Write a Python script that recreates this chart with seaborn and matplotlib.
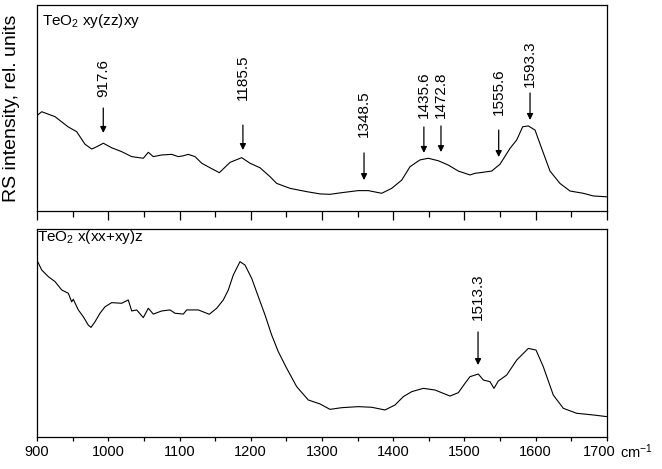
import matplotlib
matplotlib.use("Agg")
import matplotlib.pyplot as plt
from matplotlib.ticker import MultipleLocator
from matplotlib.transforms import ScaledTranslation
import seaborn as sns
import pandas as pd

# ---------------- data ----------------
wn_top = [901, 906.6, 925.3, 943.5, 955.7, 967.4, 976.8, 983.8, 993.1, 1004.8,
          1018.9, 1032.9, 1049.2, 1056.2, 1063.2, 1075.0, 1089.1, 1098.3, 1105.3,
          1112.3, 1121.8, 1131.2, 1142.8, 1155.9, 1170.9, 1187.3, 1198.9, 1213.0,
          1227.0, 1236.4, 1255.1, 1278.5, 1297.2, 1311.2, 1327.7, 1350.9, 1365.0,
          1383.8, 1397.8, 1411.9, 1423.5, 1437.5, 1449.2, 1463.2, 1477.3, 1491.3,
          1507.7, 1514.7, 1521.8, 1538.2, 1549.8, 1563.9, 1573.3, 1581.7, 1589.6,
          1599.0, 1608.3, 1620.0, 1634.0, 1648.1, 1666.7, 1680.8, 1699.6]
int_top = [46.6, 48.2, 45.8, 40.9, 38.5, 32.4, 30.1, 31.2, 32.9, 30.7,
           28.8, 26.4, 25.6, 28.5, 26.4, 27.2, 27.5, 26.4, 26.8,
           27.5, 26.4, 23.2, 21.0, 18.6, 23.6, 25.9, 23.2, 21.0,
           16.7, 13.4, 11.0, 9.4, 8.3, 8.1, 8.9, 9.9, 9.9,
           8.6, 11.0, 15.0, 21.5, 24.8, 25.6, 24.4, 22.3, 19.4,
           17.5, 18.3, 18.6, 19.4, 22.7, 30.4, 34.5, 40.9, 41.3,
           39.3, 30.4, 19.4, 13.4, 9.7, 8.6, 7.3, 6.9]

wn_bot = [901, 906.6, 915.9, 925.3, 934.7, 943.9, 948.7, 950.9, 958.0, 965.0,
          972.0, 975.8, 981.4, 988.4, 995.4, 1004.8, 1018.9, 1028.1, 1032.9,
          1039.9, 1049.2, 1056.2, 1063.2, 1075.0, 1086.7, 1093.7, 1105.3, 1110.1,
          1126.4, 1141.8, 1152.2, 1161.5, 1168.5, 1175.5, 1184.9, 1191.9, 1201.3,
          1210.6, 1220.0, 1229.4, 1238.7, 1250.5, 1264.5, 1280.8, 1297.2, 1311.2,
          1327.7, 1350.9, 1369.8, 1388.4, 1402.5, 1414.1, 1425.9, 1442.2, 1458.6,
          1470.2, 1479.6, 1491.3, 1500.7, 1507.7, 1519.4, 1526.4, 1535.8, 1541.4,
          1547.4, 1559.2, 1573.3, 1589.6, 1600.4, 1610.6, 1624.6, 1638.7, 1657.5,
          1680.8, 1699.6]
int_bot = [84.3, 80.3, 77.1, 74.7, 70.7, 69.1, 65.0, 66.2, 61.1, 57.8,
           53.8, 52.7, 55.4, 59.5, 62.6, 64.6, 64.3, 65.9, 60.6,
           61.1, 57.4, 61.9, 59.1, 60.6, 61.1, 59.5, 59.1, 61.1,
           61.1, 59.0, 61.9, 65.9, 70.7, 77.9, 84.3, 82.7, 76.3,
           67.5, 58.7, 49.0, 41.0, 33.0, 24.2, 17.8, 15.9, 13.3,
           14.1, 14.6, 14.3, 13.0, 15.4, 19.4, 21.8, 23.4, 22.6,
           21.0, 19.7, 21.3, 25.8, 29.0, 30.3, 27.4, 26.6, 23.4,
           26.9, 29.8, 37.0, 42.6, 41.8, 33.8, 20.2, 13.8, 11.4,
           10.6, 9.8]

# peak annotations: label text, arrow x, arrow tip y, arrow tail y, label bottom y
peak_labels_top = ["917.6", "1185.5", "1348.5", "1435.6", "1472.8", "1555.6", "1593.3"]
peak_x_top = [993, 1189, 1359, 1443, 1467, 1548, 1592]
peak_tip_top = [37.9, 29.6, 15.0, 28.2, 28.6, 26.2, 44.2]
peak_tail_top = [50.0, 41.7, 28.2, 40.8, 41.3, 39.3, 57.3]
peak_text_top = [55.3, 53.9, 35.9, 45.1, 45.1, 46.6, 60.2]

peak_labels_bot = ["1513.3"]
peak_x_bot = [1519]
peak_tip_bot = [34.6]
peak_tail_bot = [50.5]
peak_text_bot = [56.3]

title_top = r"TeO$_2$ xy(zz)xy"
title_bot = r"TeO$_2$ x(xx+xy)z"
xticks = [900, 1000, 1100, 1200, 1300, 1400, 1500, 1600, 1700]

# ---------------- style ----------------
sns.set_style("ticks")
plt.rcParams["font.family"] = ["Liberation Sans", "DejaVu Sans"]
plt.rcParams["mathtext.fontset"] = "custom"
plt.rcParams["mathtext.rm"] = "Liberation Sans"
plt.rcParams["mathtext.it"] = "Liberation Sans:italic"
plt.rcParams["axes.linewidth"] = 0.9
plt.rcParams["axes.edgecolor"] = "black"

fig = plt.figure(figsize=(6.62, 4.69), dpi=100)
ax_top = fig.add_axes([0.0559, 0.5501, 0.861, 0.4392])
ax_bot = fig.add_axes([0.0559, 0.0682, 0.861, 0.4435])

df_top = pd.DataFrame({"wn": wn_top, "I": int_top})
df_bot = pd.DataFrame({"wn": wn_bot, "I": int_bot})
sns.lineplot(data=df_top, x="wn", y="I", ax=ax_top, color="black", lw=0.8,
             estimator=None, sort=False)
sns.lineplot(data=df_bot, x="wn", y="I", ax=ax_bot, color="black", lw=0.8,
             estimator=None, sort=False)


def annotate(ax, labels, xs, tips, tails, texts):
    for lab, x, tip, tail, ty in zip(labels, xs, tips, tails, texts):
        ax.annotate("", xy=(x, tip), xytext=(x, tail),
                    arrowprops=dict(arrowstyle="-|>", color="black", lw=0.9,
                                    mutation_scale=9, shrinkA=0, shrinkB=0))
        ax.text(x, ty, lab, rotation=90, ha="center", va="bottom",
                fontsize=11, color="black")


annotate(ax_top, peak_labels_top, peak_x_top, peak_tip_top, peak_tail_top, peak_text_top)
annotate(ax_bot, peak_labels_bot, peak_x_bot, peak_tip_bot, peak_tail_bot, peak_text_bot)

for ax in (ax_top, ax_bot):
    ax.set_xlim(900, 1700)
    ax.set_ylim(0, 100)
    ax.set_xticks(xticks)
    ax.xaxis.set_minor_locator(MultipleLocator(50))
    ax.set_yticks([])
    ax.set_xlabel("")
    ax.set_ylabel("")
    for s in ax.spines.values():
        s.set_visible(True)
        s.set_color("black")

ax_top.tick_params(axis="x", which="major", direction="out", length=6.5, width=0.9,
                   labelbottom=False, color="black")
ax_top.tick_params(axis="x", which="minor", direction="out", length=4.5, width=0.9,
                   color="black")
ax_bot.tick_params(axis="x", which="both", direction="out", length=3, width=0.9,
                   pad=2.5, labelsize=10.5, color="black", labelcolor="black")

# shift the last tick label slightly left to make room for the unit
last = ax_bot.get_xticklabels()[-1]
last.set_transform(last.get_transform() + ScaledTranslation(-8 / 100, 0, fig.dpi_scale_trans))

ax_top.text(0.009, 0.965, title_top, transform=ax_top.transAxes, ha="left", va="top",
            fontsize=11, color="black")
ax_bot.text(0.0, 1.005, title_bot, transform=ax_bot.transAxes, ha="left", va="top",
            fontsize=11, color="black")

ax_top.set_ylabel("RS intensity, rel. units", fontsize=14, color="black")
ax_top.yaxis.set_label_coords(-0.0298, 0.5)

ax_bot.annotate("cm$^{-1}$", xy=(1, 0), xycoords="axes fraction",
                xytext=(9.5, -15), textcoords="offset points", ha="left",
                va="baseline", fontsize=10.5, color="black")

fig.savefig("out.png", dpi=100, facecolor="white")
